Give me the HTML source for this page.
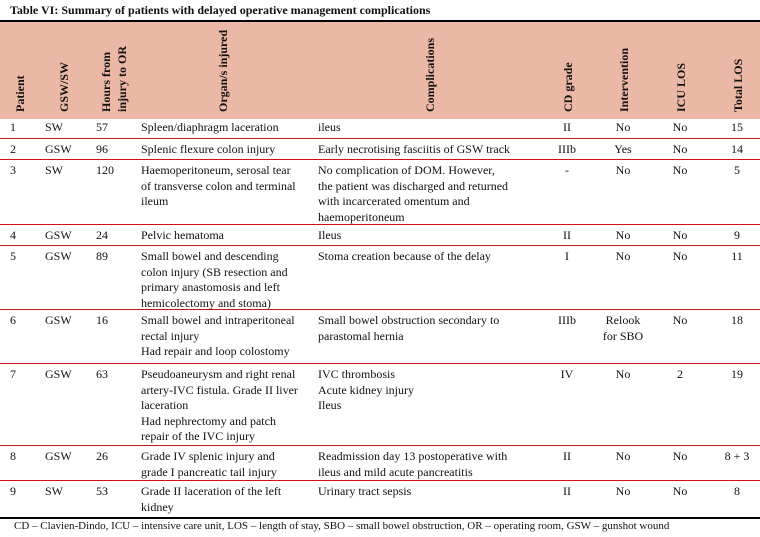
<!DOCTYPE html>
<html><head><meta charset="utf-8"><style>
body{margin:0;background:#fff;width:760px;height:537px;overflow:hidden;position:relative;font-family:"Liberation Serif",serif;font-size:12px;color:#111}
.abs{position:absolute}
.title{left:10px;top:3px;font-weight:bold;font-size:12px}
.hdr{left:0;top:20px;width:760px;height:97px;background:#ecb8a6;border-top:2px solid #000}
.hl{position:absolute;top:110px;transform-origin:0 0;transform:rotate(-90deg);font-weight:bold;white-space:nowrap;line-height:14px}
.row{position:absolute;left:0;width:760px;border-bottom:1px solid #d0101c;box-sizing:border-box}
.c{position:absolute;top:3px;line-height:15.5px;white-space:nowrap}
.ctr{text-align:center;transform:translateX(-50%)}
.foot{left:14px;top:520px;font-size:11px}
</style></head><body>
<div class="abs title">Table VI: Summary of patients with delayed operative management complications</div>
<div class="abs hdr">
<div class="hl" style="left:13px;top:90px">Patient</div>
<div class="hl" style="left:57px;top:90px">GSW/SW</div>
<div class="hl" style="left:98px;top:90px;line-height:16px">Hours from<br>injury to OR</div>
<div class="hl" style="left:216px;top:90px">Organ/s injured</div>
<div class="hl" style="left:423px;top:90px">Complications</div>
<div class="hl" style="left:561px;top:90px">CD grade</div>
<div class="hl" style="left:617px;top:90px">Intervention</div>
<div class="hl" style="left:674px;top:90px">ICU LOS</div>
<div class="hl" style="left:731px;top:90px">Total LOS</div>
</div>

<div class="row" style="top:117px;height:22px">
<div class="c" style="left:10px">1</div><div class="c" style="left:45px">SW</div><div class="c" style="left:96px">57</div>
<div class="c" style="left:141px">Spleen/diaphragm laceration</div><div class="c" style="left:318px">ileus</div>
<div class="c ctr" style="left:567px">II</div><div class="c ctr" style="left:623px">No</div><div class="c ctr" style="left:680px">No</div><div class="c ctr" style="left:737px">15</div></div>

<div class="row" style="top:139px;height:21px">
<div class="c" style="left:10px">2</div><div class="c" style="left:45px">GSW</div><div class="c" style="left:96px">96</div>
<div class="c" style="left:141px">Splenic flexure colon injury</div><div class="c" style="left:318px">Early necrotising fasciitis of GSW track</div>
<div class="c ctr" style="left:567px">IIIb</div><div class="c ctr" style="left:623px">Yes</div><div class="c ctr" style="left:680px">No</div><div class="c ctr" style="left:737px">14</div></div>

<div class="row" style="top:160px;height:65px">
<div class="c" style="left:10px">3</div><div class="c" style="left:45px">SW</div><div class="c" style="left:96px">120</div>
<div class="c" style="left:141px">Haemoperitoneum, serosal tear<br>of transverse colon and terminal<br>ileum</div><div class="c" style="left:318px">No complication of DOM. However,<br>the patient was discharged and returned<br>with incarcerated omentum and<br>haemoperitoneum</div>
<div class="c ctr" style="left:567px">-</div><div class="c ctr" style="left:623px">No</div><div class="c ctr" style="left:680px">No</div><div class="c ctr" style="left:737px">5</div></div>

<div class="row" style="top:225px;height:21px">
<div class="c" style="left:10px">4</div><div class="c" style="left:45px">GSW</div><div class="c" style="left:96px">24</div>
<div class="c" style="left:141px">Pelvic hematoma</div><div class="c" style="left:318px">Ileus</div>
<div class="c ctr" style="left:567px">II</div><div class="c ctr" style="left:623px">No</div><div class="c ctr" style="left:680px">No</div><div class="c ctr" style="left:737px">9</div></div>

<div class="row" style="top:246px;height:64px">
<div class="c" style="left:10px">5</div><div class="c" style="left:45px">GSW</div><div class="c" style="left:96px">89</div>
<div class="c" style="left:141px">Small bowel and descending<br>colon injury (SB resection and<br>primary anastomosis and left<br>hemicolectomy and stoma)</div><div class="c" style="left:318px">Stoma creation because of the delay</div>
<div class="c ctr" style="left:567px">I</div><div class="c ctr" style="left:623px">No</div><div class="c ctr" style="left:680px">No</div><div class="c ctr" style="left:737px">11</div></div>

<div class="row" style="top:310px;height:54px">
<div class="c" style="left:10px">6</div><div class="c" style="left:45px">GSW</div><div class="c" style="left:96px">16</div>
<div class="c" style="left:141px">Small bowel and intraperitoneal<br>rectal injury<br>Had repair and loop colostomy</div><div class="c" style="left:318px">Small bowel obstruction secondary to<br>parastomal hernia</div>
<div class="c ctr" style="left:567px">IIIb</div><div class="c ctr" style="left:623px">Relook<br>for SBO</div><div class="c ctr" style="left:680px">No</div><div class="c ctr" style="left:737px">18</div></div>

<div class="row" style="top:364px;height:82px">
<div class="c" style="left:10px">7</div><div class="c" style="left:45px">GSW</div><div class="c" style="left:96px">63</div>
<div class="c" style="left:141px">Pseudoaneurysm and right renal<br>artery-IVC fistula. Grade II liver<br>laceration<br>Had nephrectomy and patch<br>repair of the IVC injury</div><div class="c" style="left:318px">IVC thrombosis<br>Acute kidney injury<br>Ileus</div>
<div class="c ctr" style="left:567px">IV</div><div class="c ctr" style="left:623px">No</div><div class="c ctr" style="left:680px">2</div><div class="c ctr" style="left:737px">19</div></div>

<div class="row" style="top:446px;height:35px">
<div class="c" style="left:10px">8</div><div class="c" style="left:45px">GSW</div><div class="c" style="left:96px">26</div>
<div class="c" style="left:141px">Grade IV splenic injury and<br>grade I pancreatic tail injury</div><div class="c" style="left:318px">Readmission day 13 postoperative with<br>ileus and mild acute pancreatitis</div>
<div class="c ctr" style="left:567px">II</div><div class="c ctr" style="left:623px">No</div><div class="c ctr" style="left:680px">No</div><div class="c ctr" style="left:737px">8 + 3</div></div>

<div class="row" style="top:481px;height:38px;border-bottom:2px solid #000">
<div class="c" style="left:10px">9</div><div class="c" style="left:45px">SW</div><div class="c" style="left:96px">53</div>
<div class="c" style="left:141px">Grade II laceration of the left<br>kidney</div><div class="c" style="left:318px">Urinary tract sepsis</div>
<div class="c ctr" style="left:567px">II</div><div class="c ctr" style="left:623px">No</div><div class="c ctr" style="left:680px">No</div><div class="c ctr" style="left:737px">8</div></div>

<div class="abs foot">CD – Clavien-Dindo, ICU – intensive care unit, LOS – length of stay, SBO – small bowel obstruction, OR – operating room, GSW – gunshot wound</div>
</body></html>
